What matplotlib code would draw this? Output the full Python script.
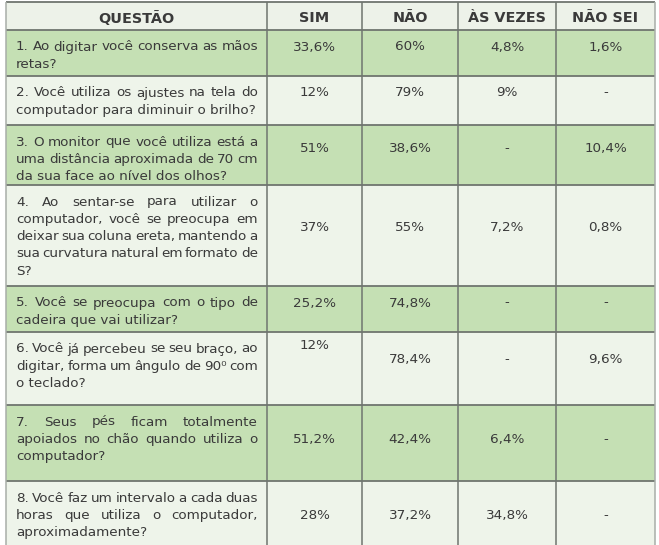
import matplotlib
matplotlib.use("Agg")
import matplotlib.pyplot as plt
from matplotlib.patches import Rectangle

# ---------------- data ----------------
headers = ["QUESTÃO", "SIM", "NÃO", "ÀS VEZES", "NÃO SEI"]
questions = [
    ["1. Ao digitar você conserva as mãos", "retas?"],
    ["2. Você utiliza os ajustes na tela do", "computador para diminuir o brilho?"],
    ["3. O monitor que você utiliza está a", "uma distância aproximada de 70 cm",
     "da sua face ao nível dos olhos?"],
    ["4. Ao sentar-se para utilizar o", "computador, você se preocupa em",
     "deixar sua coluna ereta, mantendo a", "sua curvatura natural em formato de", "S?"],
    ["5. Você se preocupa com o tipo de", "cadeira que vai utilizar?"],
    ["6. Você já percebeu se seu braço, ao", "digitar, forma um ângulo de 90\u2070 com",
     "o teclado?"],
    ["7. Seus pés ficam totalmente", "apoiados no chão quando utiliza o", "computador?"],
    ["8. Você faz um intervalo a cada duas", "horas que utiliza o computador,",
     "aproximadamente?"],
]
sim = ["33,6%", "12%", "51%", "37%", "25,2%", "12%", "51,2%", "28%"]
nao = ["60%", "79%", "38,6%", "55%", "74,8%", "78,4%", "42,4%", "37,2%"]
as_vezes = ["4,8%", "9%", "-", "7,2%", "-", "-", "6,4%", "34,8%"]
nao_sei = ["1,6%", "-", "10,4%", "0,8%", "-", "9,6%", "-", "-"]

# ---------------- layout ----------------
W, H = 659, 545
col_x = [6, 267, 362, 458, 556, 655]
row_y = [2, 30, 76, 125, 185, 286, 332, 405, 481, 548]
first_off = 15.5
pitch = 17.3
# vertical position of values, expressed in text-line units within each row
value_line = [[0, 0, 0, 0], [0, 0, 0, 0], [0.4, 0.4, 0.4, 0.4], [1.5, 1.5, 1.5, 1.5],
              [0, 0, 0, 0], [-0.2, 0.6, 0.6, 0.6], [1, 1, 1, 1], [1, 1, 1, 1]]

GREEN = "#c5e0b4"
LIGHT = "#eef4ea"
HEAD = "#edf2e9"
LINE = "#6f756f"
TXT = "#3a3a3a"
FS = 9.7
HFS = 10.4

fig = plt.figure(figsize=(W / 100, H / 100), dpi=100)
ax = fig.add_axes([0, 0, 1, 1])
ax.set_xlim(0, W)
ax.set_ylim(H, 0)
ax.axis("off")
renderer = fig.canvas.get_renderer()


def width(s, fs, **kw):
    t = ax.text(0, 0, s, fontsize=fs, **kw)
    w = t.get_window_extent(renderer).width
    t.remove()
    return w


x0, x1 = 16, 258
space_w = width("x x", FS) - width("xx", FS)

# backgrounds
ax.add_patch(Rectangle((col_x[0], row_y[0]), col_x[-1] - col_x[0], row_y[1] - row_y[0],
                       facecolor=HEAD, edgecolor="none"))
for i in range(len(questions)):
    color = GREEN if i % 2 == 0 else LIGHT
    ax.add_patch(Rectangle((col_x[0], row_y[i + 1]), col_x[-1] - col_x[0],
                           row_y[i + 2] - row_y[i + 1], facecolor=color, edgecolor="none"))

# grid lines
for y in row_y[:-1]:
    ax.plot([col_x[0], col_x[-1]], [y, y], color=LINE, lw=1.3, solid_capstyle="butt")
for j, x in enumerate(col_x):
    ax.plot([x, x], [row_y[0], row_y[-1]], color=LINE if 0 < j < len(col_x) - 1 else "#a8aea8",
            lw=1.1, solid_capstyle="butt")

# header
hy = (row_y[0] + row_y[1]) / 2 + 1
for j, h in enumerate(headers):
    ax.text((col_x[j] + col_x[j + 1]) / 2, hy, h, ha="center", va="center_baseline",
            fontsize=HFS, fontweight="bold", color=TXT)

# question text (justified)
for i, lines in enumerate(questions):
    top = row_y[i + 1]
    for k, line in enumerate(lines):
        y = top + first_off + k * pitch
        words = line.split()
        justify = k < len(lines) - 1 and len(words) > 1
        if not justify:
            ax.text(x0, y, line, ha="left", va="center_baseline", fontsize=FS, color=TXT)
            continue
        ws = [width(w, FS) for w in words]
        gap = (x1 - x0 - sum(ws)) / (len(words) - 1)
        x = x0
        for w, wd in zip(words, ws):
            ax.text(x, y, w, ha="left", va="center_baseline", fontsize=FS, color=TXT)
            x += wd + gap

# values
cols = [sim, nao, as_vezes, nao_sei]
for i in range(len(questions)):
    top = row_y[i + 1]
    for j, col in enumerate(cols):
        y = top + first_off + value_line[i][j] * pitch
        ax.text((col_x[j + 1] + col_x[j + 2]) / 2, y, col[i], ha="center",
                va="center_baseline", fontsize=FS, color=TXT)

fig.savefig("out.png", dpi=100)
